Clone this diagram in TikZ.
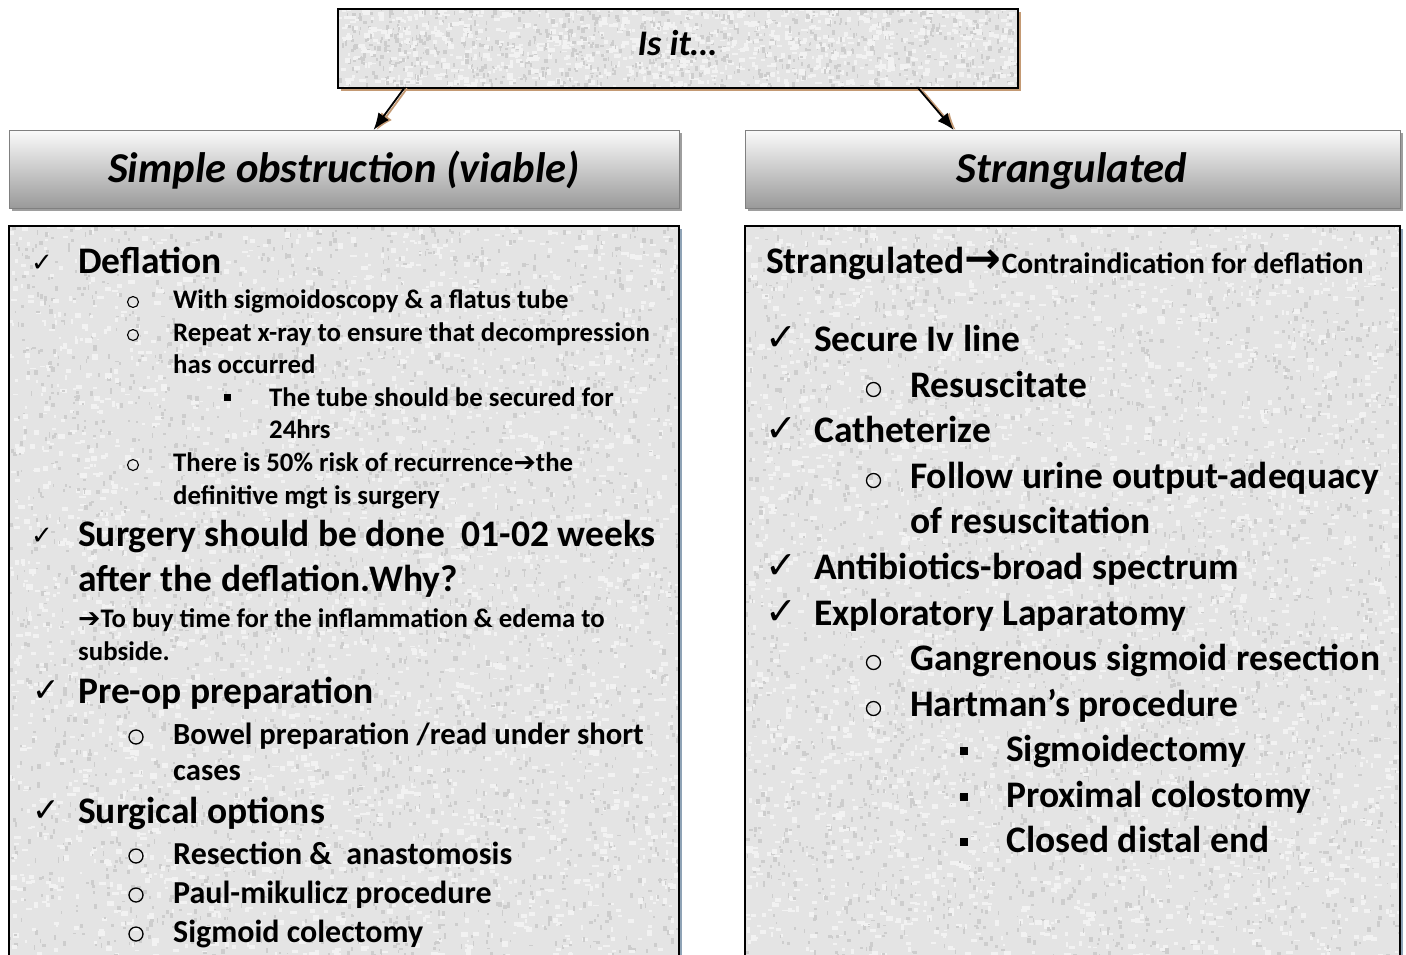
\documentclass[tikz,border=0pt]{standalone}
\usepackage{fontspec}
\setmainfont{Carlito}
\newfontfamily\symfont{DejaVu Sans}
\usetikzlibrary{arrows.meta,calc}

\definecolor{tanshadow}{HTML}{C49A74}
\definecolor{blueshadow}{HTML}{8FA3B6}
\definecolor{stonebase}{HTML}{E4E4E4}
\definecolor{stonelight}{HTML}{F2F2F2}
\definecolor{stonedark}{HTML}{CDCDCD}

% random speckles that give a box a granite look
\newcommand\speckle[3]{% node name, count, seed
  \begin{scope}
    \clip (#1.south west) rectangle (#1.north east);
    \pgfmathsetseed{#3}
    \path (#1.north west); \pgfgetlastxy{\gxa}{\gya}
    \path (#1.south east); \pgfgetlastxy{\gxb}{\gyb}
    \foreach \k in {1,...,#2}{
      \pgfmathsetmacro\sx{\gxa+rnd*(\gxb-\gxa)}
      \pgfmathsetmacro\sy{\gyb+rnd*(\gya-\gyb)}
      \pgfmathsetmacro\sw{2+rnd*5}
      \pgfmathsetmacro\sh{1.5+rnd*4}
      \pgfsetfillcolor{stonelight}
      \pgfpathrectangle{\pgfpoint{\sx pt}{\sy pt}}{\pgfpoint{\sw pt}{\sh pt}}
      \pgfusepath{fill}
      \pgfmathsetmacro\tx{\gxa+rnd*(\gxb-\gxa)}
      \pgfmathsetmacro\ty{\gyb+rnd*(\gya-\gyb)}
      \pgfmathsetmacro\tw{1+rnd*3}
      \pgfmathsetmacro\th{1.5+rnd*4}
      \pgfsetfillcolor{stonedark}
      \pgfpathrectangle{\pgfpoint{\tx pt}{\ty pt}}{\pgfpoint{\tw pt}{\th pt}}
      \pgfusepath{fill}
    }
  \end{scope}
}

\begin{document}
\begin{tikzpicture}[x=1pt,y=-1pt,
  stone/.style={fill=stonebase, inner sep=0pt, anchor=north west},
  headbox/.style={top color=black!2, bottom color=black!40, inner sep=0pt,
    anchor=north west, draw=black!50, line width=1.3pt},
  toptitle/.style={font=\fontsize{36}{40}\selectfont\bfseries\itshape, inner sep=0pt},
  headtitle/.style={font=\fontsize{42.6}{50}\selectfont\bfseries\itshape, inner sep=0pt, anchor=base},
  big/.style={anchor=base west, inner sep=0pt, font=\fontsize{37.5}{44}\selectfont\bfseries},
  small/.style={anchor=base west, inner sep=0pt, font=\fontsize{26.8}{31}\selectfont\bfseries},
  mid/.style={anchor=base west, inner sep=0pt, font=\fontsize{32}{36}\selectfont\bfseries},
  midb/.style={anchor=base west, inner sep=0pt, font=\fontsize{30.7}{36}\selectfont\bfseries},
  chk/.style={anchor=base west, inner sep=0pt, font=\symfont\bfseries\fontsize{26}{28}\selectfont},
  chkbig/.style={anchor=base west, inner sep=0pt, font=\symfont\bfseries\fontsize{33}{36}\selectfont},
  chkhuge/.style={anchor=base west, inner sep=0pt, font=\symfont\bfseries\fontsize{38}{42}\selectfont},
  ring/.style={circle, draw, line width=1.1pt, minimum size=11pt, inner sep=0pt},
  ringbig/.style={circle, draw, line width=1.3pt, minimum size=14pt, inner sep=0pt},
  box/.style={fill=black, minimum size=7pt, inner sep=0pt},
  boxbig/.style={fill=black, minimum size=8pt, inner sep=0pt},
  link/.style={line width=1.8pt, -{Latex[length=17pt,width=13pt]}}]
\useasboundingbox (0,0) rectangle (1406,954);
\fill[white] (0,0) rectangle (1406,954);

% ---- top question box ----
\fill[tanshadow] (341,12) rectangle (1021,91);
\node[stone, minimum width=680pt, minimum height=79pt] (top) at (338,9) {};
\speckle{top}{900}{11}
\draw[line width=2pt] (top.north west) rectangle (top.south east);
\node[toptitle] (toptxt) at (677,43) {Is it…};

% ---- header boxes ----
\fill[black!38] (12,133) rectangle (682,211);
\fill[black!38] (748,133) rectangle (1403,211);
\node[headbox, minimum width=670pt, minimum height=78pt] (hl) at (9,130) {};
\node[headbox, minimum width=655pt, minimum height=78pt] (hr) at (745,130) {};
\node[headtitle] (hltxt) at (344,182) {Simple obstruction (viable)};
\node[headtitle] (hrtxt) at (1072,182) {Strangulated};

% ---- connectors ----
\coordinate (al0) at ($(top.south west)!0.097!(top.south east)$);
\coordinate (al1) at ($(hl.north west)!0.543!(hl.north east)$);
\coordinate (ar0) at ($(top.south west)!0.853!(top.south east)$);
\coordinate (ar1) at ($(hr.north west)!0.318!(hr.north east)$);
\draw[link, tanshadow, transform canvas={xshift=3pt}] (al0) -- (al1);
\draw[link, tanshadow, transform canvas={xshift=2pt}] (ar0) -- (ar1);
\draw[link] (al0) -- (al1);
\draw[link] (ar0) -- (ar1);

% ---- content boxes ----
\fill[blueshadow] (679,229) rectangle (682,960);
\fill[blueshadow] (1400,229) rectangle (1403,960);
\node[stone, minimum width=670pt, minimum height=740pt] (bl) at (9,226) {};
\node[stone, minimum width=655pt, minimum height=740pt] (br) at (745,226) {};
\speckle{bl}{3000}{23}
\speckle{br}{3000}{37}
\draw[line width=2pt] (bl.south west) -- (bl.north west) -- (bl.north east) -- (bl.south east);
\draw[line width=2pt] (br.south west) -- (br.north west) -- (br.north east) -- (br.south east);

% ---- left column ----
\node[chk] (lb1) at (31,271) {✓};
\node[big] (l1) at (78,273) {Deflation};
\node[ring] (lb2) at (133,302) {};
\node[small] (l2) at (173,308) {With sigmoidoscopy \& a flatus tube};
\node[ring] (lb3) at (133,335) {};
\node[small] (l3) at (173,341) {Repeat x-ray to ensure that decompression};
\node[small] (l4) at (173,373) {has occurred};
\node[box] (lb5) at (227.5,397) {};
\node[small] (l5) at (269,406) {The tube should be secured for};
\node[small] (l6) at (269,438) {24hrs};
\node[ring] (lb7) at (133,465) {};
\node[small] (l7) at (173,471) {There is 50\% risk of recurrence{\symfont ➔}the};
\node[small] (l8) at (173,504) {definitive mgt is surgery};
\node[chk] (lb9) at (31,544) {✓};
\node[big] (l9) at (78,546) {Surgery should be done\ \ 01-02 weeks};
\node[big] (l10) at (78,591) {after the deflation.Why?};
\node[small] (l11) at (78,627) {{\symfont ➔}To buy time for the inflammation \& edema to};
\node[small] (l12) at (78,660) {subside.};
\node[chkbig] (lb13) at (32,701) {✓};
\node[big] (l13) at (78,703) {Pre-op preparation};
\node[ringbig] (lb14) at (136,737) {};
\node[midb] (l14) at (173,744) {Bowel preparation /read under short};
\node[midb] (l15) at (173,780) {cases};
\node[chkbig] (lb16) at (32,821) {✓};
\node[big] (l16) at (78,823) {Surgical options};
\node[ringbig] (lb17) at (136,856) {};
\node[mid] (l17) at (173,864) {Resection \&\ \ anastomosis};
\node[ringbig] (lb18) at (136,895) {};
\node[mid] (l18) at (173,903) {Paul-mikulicz procedure};
\node[ringbig] (lb19) at (136,934) {};
\node[mid] (l19) at (173,942) {Sigmoid colectomy};

% ---- right column ----
\node[big] (r1) at (766,273) {Strangulated{\symfont\bfseries\fontsize{44}{48}\selectfont →}{\fontsize{29.5}{34}\selectfont Contraindication for deflation}};
\node[chkhuge] (rb2) at (765,350) {✓};
\node[big] (r2) at (814,351) {Secure Iv line};
\node[ringbig] (rb3) at (873.5,389.5) {};
\node[big] (r3) at (910,397) {Resuscitate};
\node[chkhuge] (rb4) at (765,441) {✓};
\node[big] (r4) at (814,442) {Catheterize};
\node[ringbig] (rb5) at (873.5,480.5) {};
\node[big] (r5) at (910,488) {Follow urine output-adequacy};
\node[big] (r6) at (910,533) {of resuscitation};
\node[chkhuge] (rb7) at (765,578) {✓};
\node[big] (r7) at (814,579) {Antibiotics-broad spectrum};
\node[chkhuge] (rb8) at (765,624) {✓};
\node[big] (r8) at (814,625) {Exploratory Laparatomy};
\node[ringbig] (rb9) at (873.5,662.5) {};
\node[big] (r9) at (910,670) {Gangrenous sigmoid resection};
\node[ringbig] (rb10) at (873.5,708.5) {};
\node[big] (r10) at (910,716) {Hartman’s procedure};
\node[boxbig] (rb11) at (963.5,751) {};
\node[big] (r11) at (1006,761) {Sigmoidectomy};
\node[boxbig] (rb12) at (963.5,797) {};
\node[big] (r12) at (1006,807) {Proximal colostomy};
\node[boxbig] (rb13) at (963.5,842) {};
\node[big] (r13) at (1006,852) {Closed distal end};
\end{tikzpicture}
\end{document}
